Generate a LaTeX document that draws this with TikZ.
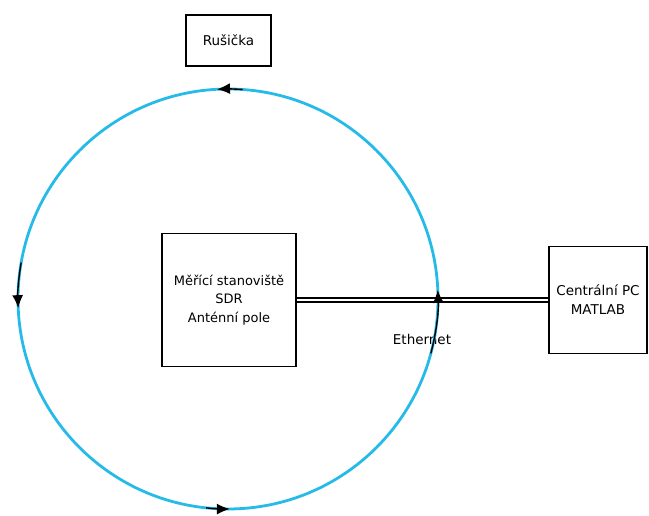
\documentclass[tikz,border=0pt]{standalone}
\usepackage{fontspec}
\setmainfont{DejaVu Sans}
\usetikzlibrary{arrows.meta}
\definecolor{ringblue}{RGB}{38,186,232}

\begin{document}
\begin{tikzpicture}[x=1pt, y=1pt,
    box/.style={draw, line width=1.5pt, align=center, inner sep=0pt},
    flowtip/.style={black, line width=1.4pt, -{Latex[length=13pt,width=11pt]}}]
  \useasboundingbox (0,0) rectangle (649,515);

  \node[box, minimum width=85, minimum height=51, font=\fontsize{13.5}{16}\selectfont] (jammer) at (228.5,474.5) {Rušička};
  \node[box, minimum width=134, minimum height=133, font=\fontsize{13}{18.5}\selectfont] (station) at (229,215) {Měřící stanoviště\\SDR\\Anténní pole};
  \node[box, minimum width=98, minimum height=107, font=\fontsize{13.5}{19}\selectfont] (pc) at (598,215) {Centrální PC\\MATLAB};

  \draw[line width=1.5pt, double, double distance=2.4pt] (station) -- (pc);
    \node[font=\fontsize{13.5}{16}\selectfont] (eth) at (422,176) {Ethernet};

  % ring of the jammer
  \coordinate (ringc) at (228,216);
  \draw[ringblue, line width=2.8pt] (ringc) circle (210);
    \draw[flowtip] ([shift={(ringc)}]-15:210) arc (-15:2.5:210);
    \draw[flowtip] ([shift={(ringc)}]86:210) arc (86:93:210);
    \draw[flowtip] ([shift={(ringc)}]170:210) arc (170:182.5:210);
    \draw[flowtip] ([shift={(ringc)}]264:210) arc (264:270.5:210);
\end{tikzpicture}
\end{document}
